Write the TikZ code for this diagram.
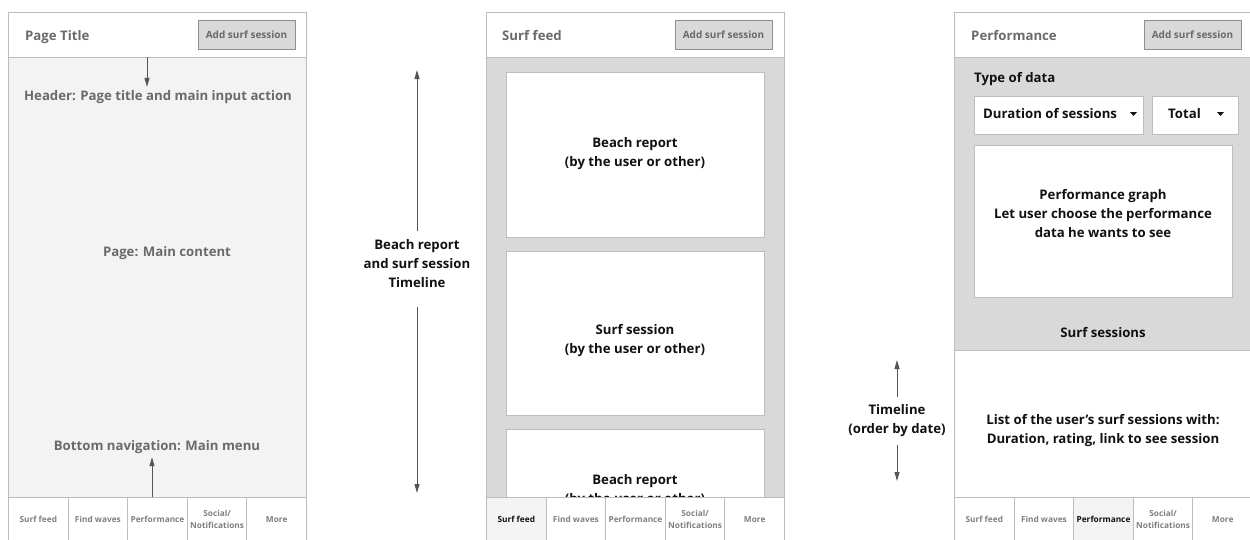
\documentclass[tikz,border=0pt]{standalone}
\usepackage{fontspec}
\setmainfont{Open Sans}
\usetikzlibrary{positioning, arrows.meta}
\tikzset{>={Triangle[length=9pt, width=5pt]}}
\definecolor{frame}{HTML}{BDBDBD}
\definecolor{pale}{HTML}{F3F3F3}
\definecolor{mid}{HTML}{D9D9D9}
\definecolor{ink}{HTML}{6A6A6A}
\definecolor{dark}{HTML}{111111}
\tikzset{
  head/.style={draw=frame, line width=1pt, fill=white, anchor=north west, inner sep=0pt, minimum width=298pt, minimum height=45pt},
  body/.style={draw=frame, line width=1pt, anchor=north west, inner sep=0pt, minimum width=298pt},
  card/.style={draw=frame, line width=1pt, fill=white, anchor=north west, inner sep=0pt},
  title/.style={anchor=base west, inner sep=0pt, text=ink, font=\fontsize{13.2}{16}\selectfont\bfseries},
  btn/.style={draw=frame!75!black, line width=0.8pt, fill=mid, minimum width=97pt, minimum height=29pt, inner sep=0pt, text=ink, font=\fontsize{10}{12}\selectfont\bfseries},
  note/.style={text=ink, align=center, font=\fontsize{13.2}{19}\selectfont\bfseries},
  big/.style={text=dark, align=center, font=\fontsize{13.2}{19}\selectfont\bfseries},
  navoff/.style={draw=frame, line width=1pt, fill=white, anchor=north west, minimum width=59.6pt, minimum height=44pt, inner sep=0pt, align=center, text=ink!85, font=\fontsize{8.3}{11.5}\selectfont\bfseries},
  navon/.style={navoff, fill=pale, text=dark},
  pointer/.style={->, draw=ink!80!black, fill=ink!80!black, line width=1pt}
}
\begin{document}
\begin{tikzpicture}[x=1pt, y=-1pt]
  \useasboundingbox (0,0) rectangle (1250,539);

  % screen one: layout
  \node[body, fill=pale, minimum height=445pt] (page1) at (8,57) {};
  \node[head] (head1) at (8,12) {};
  \node[title] (title1) at (25,40) {Page Title};
  \node[btn] (add1) at (246.5,34.5) {Add surf session};
  \node[note] (hdrtxt) at (158,97) {Header: Page title and main input action};
  \node[note] (maintxt) at (167,253) {Page: Main content};
  \node[note] (navtxt) at (157,447) {Bottom navigation: Main menu};
  \foreach \lbl [count=\i from 0] in {Surf feed, Find waves, Performance, {Social/\\Notifications}, More}
    \node[navoff] (navA\i) at ({8+59.6*\i},497) {\lbl};
  \coordinate (hdrtip) at (147,57);
  \coordinate (navtip) at (152,497);
  \draw[pointer] (hdrtip) -- (hdrtip |- hdrtxt.north);
  \draw[pointer] (navtip) -- (navtip |- navtxt.south);

  % timeline between one and two
  \node[big, inner sep=9pt] (feedtl) at (417,264) {Beach report\\and surf session\\Timeline};
  \coordinate (feedtop) at (417,70);
  \coordinate (feedend) at (417,493);
  \draw[pointer] (feedtl.north) -- (feedtop);
  \draw[pointer, shorten <=10pt] (feedtl.south) -- (feedend);

  % screen two: surf feed
  \node[body, fill=mid, minimum height=445pt] (page2) at (486,57) {};
  \node[head] (head2) at (486,12) {};
  \node[title] (title2) at (502,40) {Surf feed};
  \node[btn] (add2) at (723.5,34.5) {Add surf session};
  \node[card, minimum width=258pt, minimum height=165pt] (card1) at (506,72) {};
  \node[card, minimum width=258pt, minimum height=164pt] (card2) at (506,251) {};
  \node[card, minimum width=258pt, minimum height=90pt] (card3) at (506,429) {};
  \node[big] (rep1) at (635,154) {Beach report\\(by the user or other)};
  \node[big] (ses1) at (635,341) {Surf session\\(by the user or other)};
  \node[big] (rep2) at (635,491) {Beach report\\(by the user or other)};
  \foreach \lbl [count=\i from 0] in {Surf feed, Find waves, Performance, {Social/\\Notifications}, More}{
    \ifnum\i=0 \def\cellstyle{navon}\else\def\cellstyle{navoff}\fi
    \node[\cellstyle] (navB\i) at ({486+59.6*\i},497) {\lbl};
  }

  % timeline between two and three
  \node[big, inner sep=8pt] (perftl) at (897,421) {Timeline\\(order by date)};
  \coordinate (perftop) at (897,360);
  \coordinate (perfend) at (897,481);
  \draw[pointer] (perftl.north) -- (perftop);
  \draw[pointer] (perftl.south) -- (perfend);

  % screen three: performance
  \node[body, fill=white, minimum height=152pt] (list3) at (954,350) {};
  \node[body, fill=mid, minimum height=293pt] (page3) at (954,57) {};
  \node[head] (head3) at (954,12) {};
  \node[title] (title3) at (971,40) {Performance};
  \node[btn] (add3) at (1192.5,34.5) {Add surf session};
  \node[big, anchor=base west, inner sep=0pt] (typetxt) at (974,82) {Type of data};
  \node[card, minimum width=169pt, minimum height=38pt] (drop1) at (974,96) {};
  \node[card, minimum width=86pt, minimum height=38pt] (drop2) at (1152,96) {};
  \node[big, anchor=west, inner sep=0pt] (droptxt1) at (983,114) {Duration of sessions};
  \node[big, anchor=west, inner sep=0pt] (droptxt2) at (1168,114) {Total};
  \fill[dark] (1130,112) -- (1137,112) -- (1133.5,116) -- cycle;
  \fill[dark] (1217,112) -- (1224,112) -- (1220.5,116) -- cycle;
  \node[card, minimum width=258pt, minimum height=152pt] (graph3) at (974,145) {};
  \node[big] (graphtxt) at (1103,214) {Performance graph\\Let user choose the performance\\data he wants to see};
  \node[big] (sesstxt) at (1103,333) {Surf sessions};
  \node[big] (listtxt) at (1103,431) {List of the user’s surf sessions with:\\Duration, rating, link to see session};
  \foreach \lbl [count=\i from 0] in {Surf feed, Find waves, Performance, {Social/\\Notifications}, More}{
    \ifnum\i=2 \def\cellstyle{navon}\else\def\cellstyle{navoff}\fi
    \node[\cellstyle] (navC\i) at ({954+59.6*\i},497) {\lbl};
  }
\end{tikzpicture}
\end{document}
